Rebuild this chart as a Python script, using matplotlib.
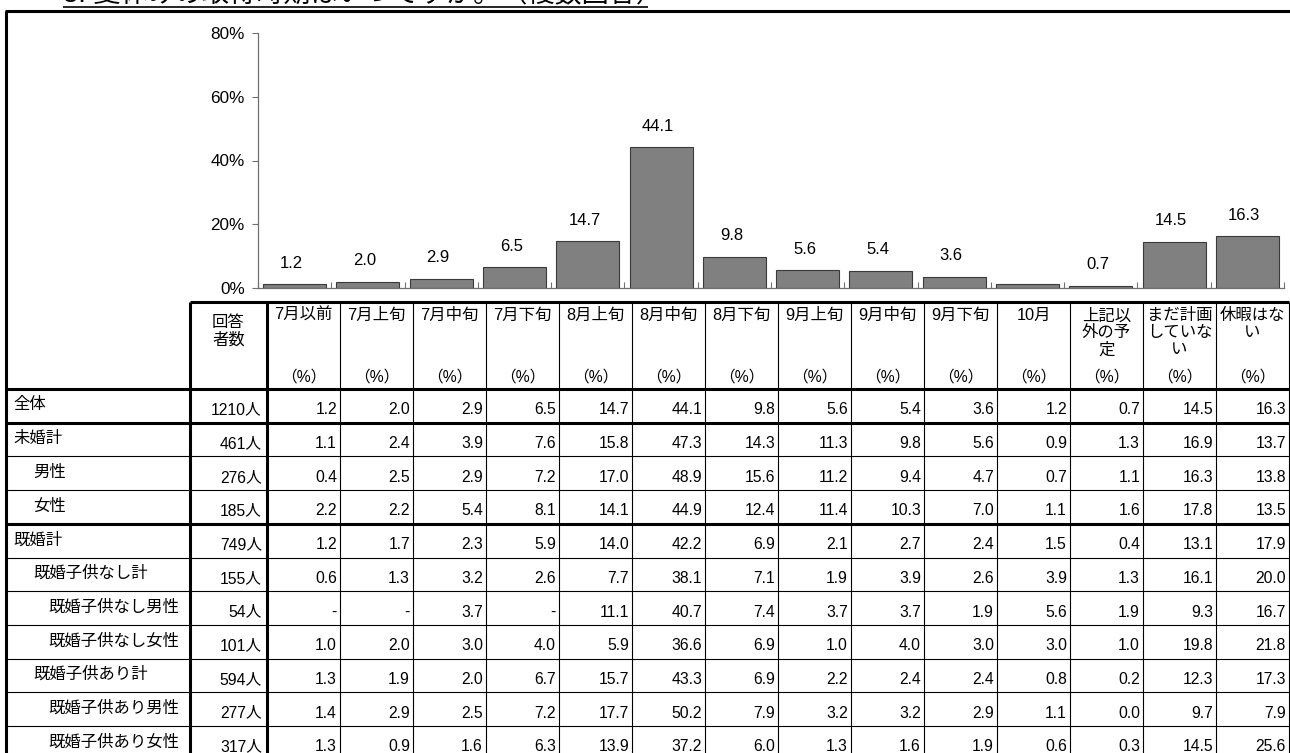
import matplotlib
matplotlib.use("Agg")
import matplotlib.pyplot as plt

plt.rcParams["font.family"] = ["Liberation Sans", "Noto Sans CJK JP", "DejaVu Sans"]

title = "3. 夏休みの取得時期はいつですか。（複数回答）"

categories = ["7月以前", "7月上旬", "7月中旬", "7月下旬", "8月上旬", "8月中旬", "8月下旬",
              "9月上旬", "9月中旬", "9月下旬", "10月", "上記以外の予定", "まだ計画していない", "休暇はない"]
header_labels = ["7月以前", "7月上旬", "7月中旬", "7月下旬", "8月上旬", "8月中旬", "8月下旬",
                 "9月上旬", "9月中旬", "9月下旬", "10月", "上記以\n外の予\n定", "まだ計画\nしていな\nい", "休暇はな\nい"]
hidden_bar_labels = ["10月"]

row_labels = ["全体", "未婚計", "男性", "女性", "既婚計", "既婚子供なし計", "既婚子供なし男性",
              "既婚子供なし女性", "既婚子供あり計", "既婚子供あり男性", "既婚子供あり女性"]
row_level = [0, 0, 1, 1, 0, 1, 2, 2, 1, 2, 2]
respondents = [1210, 461, 276, 185, 749, 155, 54, 101, 594, 277, 317]
values = [
    [1.2, 2.0, 2.9, 6.5, 14.7, 44.1, 9.8, 5.6, 5.4, 3.6, 1.2, 0.7, 14.5, 16.3],
    [1.1, 2.4, 3.9, 7.6, 15.8, 47.3, 14.3, 11.3, 9.8, 5.6, 0.9, 1.3, 16.9, 13.7],
    [0.4, 2.5, 2.9, 7.2, 17.0, 48.9, 15.6, 11.2, 9.4, 4.7, 0.7, 1.1, 16.3, 13.8],
    [2.2, 2.2, 5.4, 8.1, 14.1, 44.9, 12.4, 11.4, 10.3, 7.0, 1.1, 1.6, 17.8, 13.5],
    [1.2, 1.7, 2.3, 5.9, 14.0, 42.2, 6.9, 2.1, 2.7, 2.4, 1.5, 0.4, 13.1, 17.9],
    [0.6, 1.3, 3.2, 2.6, 7.7, 38.1, 7.1, 1.9, 3.9, 2.6, 3.9, 1.3, 16.1, 20.0],
    [None, None, 3.7, None, 11.1, 40.7, 7.4, 3.7, 3.7, 1.9, 5.6, 1.9, 9.3, 16.7],
    [1.0, 2.0, 3.0, 4.0, 5.9, 36.6, 6.9, 1.0, 4.0, 3.0, 3.0, 1.0, 19.8, 21.8],
    [1.3, 1.9, 2.0, 6.7, 15.7, 43.3, 6.9, 2.2, 2.4, 2.4, 0.8, 0.2, 12.3, 17.3],
    [1.4, 2.9, 2.5, 7.2, 17.7, 50.2, 7.9, 3.2, 3.2, 2.9, 1.1, 0.0, 9.7, 7.9],
    [1.3, 0.9, 1.6, 6.3, 13.9, 37.2, 6.0, 1.3, 1.6, 1.9, 0.6, 0.3, 14.5, 25.6],
]
thick_after_rows = [0, 3]  # a heavy rule follows these rows

W, H = 1290, 753
fig = plt.figure(figsize=(W / 100, H / 100), dpi=100)

# whole-figure axes in pixel units for the frame and the table
tab = fig.add_axes([0, 0, 1, 1])
tab.set_xlim(0, W)
tab.set_ylim(H, 0)
tab.axis("off")

THICK = 2.2
THIN = 0.8
NUM_SIZE = 11.3
CJK_SIZE = 11.8


def hline(y, x0, x1, lw):
    tab.plot([x0, x1], [y, y], color="black", lw=lw, solid_capstyle="butt", clip_on=False)


def vline(x, y0, y1, lw):
    tab.plot([x, x], [y0, y1], color="black", lw=lw, solid_capstyle="butt", clip_on=False)


# title (cut off by the top edge, as in the source page) and its underline
tab.text(63, 2.0, title, fontsize=19.5, va="baseline", ha="left")
hline(6.5, 63, 648, 1.2)

# outer frame
frame_left, frame_top = 6, 11
hline(frame_top, frame_left - 1, W, THICK)
vline(frame_left, frame_top, H, THICK)

# table geometry
label_right = 190
count_right = 267
col_w = 73
head_top, head_bottom = 302, 389
row_h = 33.7
n_rows = len(row_labels)
col_edges = [count_right + col_w * k for k in range(len(categories) + 1)]
row_edges = [head_bottom + row_h * k for k in range(n_rows + 1)]
table_right = col_edges[-1]

hline(head_top, label_right, table_right, THICK)
hline(head_bottom, frame_left, table_right, THICK)
for r in range(n_rows):
    lw = THICK if r in thick_after_rows else THIN
    hline(row_edges[r + 1], frame_left, table_right, lw)

vline(label_right, head_top, H, THICK)
vline(count_right, head_top, H, THICK)
for x in col_edges[1:-1]:
    vline(x, head_top, H, THIN)
vline(table_right, head_top, H, THIN)

# header texts
tab.text((label_right + count_right) / 2, 331, "回答\n者数", ha="center", va="center",
         fontsize=CJK_SIZE, linespacing=1.2)
for k, lab in enumerate(header_labels):
    cx = (col_edges[k] + col_edges[k + 1]) / 2
    tab.text(cx, 308, lab, ha="center", va="top", fontsize=CJK_SIZE, linespacing=1.15)
    tab.text(cx, 377, "（%）", ha="center", va="center", fontsize=NUM_SIZE)

# body
indent = [13, 33, 48]
for r, lab in enumerate(row_labels):
    cy = (row_edges[r] + row_edges[r + 1]) / 2
    tab.text(indent[row_level[r]], cy - 1, lab, ha="left", va="center", fontsize=CJK_SIZE)
    tab.text(count_right - 5, cy + 4, f"{respondents[r]}人", ha="right", va="center", fontsize=NUM_SIZE)
    for k, v in enumerate(values[r]):
        txt = "-" if v is None else f"{v:.1f}"
        tab.text(col_edges[k + 1] - 3, cy + 4, txt, ha="right", va="center", fontsize=NUM_SIZE)

# bar chart of the overall row
left, right, top, bottom = 258, 1284, 33, 288
ax = fig.add_axes([left / W, 1 - bottom / H, (right - left) / W, (bottom - top) / H])
x = list(range(len(categories)))
bar_values = values[0]
ax.bar(x, bar_values, width=0.86, color="#808080", edgecolor="#3a3a3a", linewidth=0.8)
for i, v in enumerate(bar_values):
    if categories[i] in hidden_bar_labels:
        continue
    ax.annotate(f"{v:.1f}", (i, v), xytext=(-3, 21), textcoords="offset pixels",
                ha="center", va="center", fontsize=12)

ax.set_xlim(-0.5, len(categories) - 0.5)
ax.set_ylim(0, 80)
ax.set_yticks([0, 20, 40, 60, 80])
ax.set_yticklabels([f"{t}%" for t in [0, 20, 40, 60, 80]])
ax.set_xticks([])
ax.set_xticks([i - 0.5 for i in range(len(categories) + 1)], minor=True)
ax.tick_params(axis="y", direction="out", length=4, width=0.8, color="#707070", pad=5.5, labelsize=12.3)
ax.tick_params(axis="x", which="minor", direction="in", length=4, width=0.8, color="#707070")
for side in ["top", "right"]:
    ax.spines[side].set_visible(False)
for side in ["left", "bottom"]:
    ax.spines[side].set_color("#707070")
    ax.spines[side].set_linewidth(0.9)
ax.patch.set_alpha(0)

fig.savefig("out.png", dpi=100)
